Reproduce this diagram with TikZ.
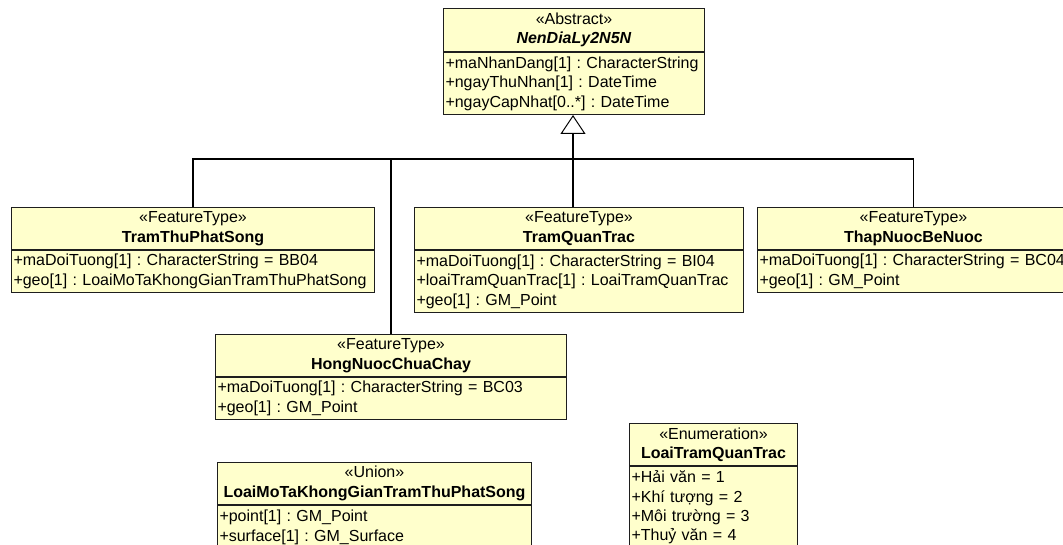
\documentclass[tikz,border=0pt]{standalone}
\usepackage{fontspec}
\setmainfont{Liberation Sans}
\usetikzlibrary{arrows.meta}
\definecolor{classfill}{HTML}{FFFFCC}
\definecolor{classline}{HTML}{1E1E1E}

\begin{document}
\begin{tikzpicture}[x=1pt, y=-1pt,
  font=\fontsize{16}{19.4}\selectfont\frenchspacing,
  hdr/.style={draw=classline, fill=classfill, line width=1pt, anchor=north west,
    inner sep=0pt, align=center},
  body/.style={draw=classline, fill=classfill, line width=1pt, anchor=north west,
    inner xsep=2pt, inner ysep=0pt, align=left},
  conn/.style={draw=black, line width=1.1pt},
  gen/.style={conn, -{Triangle[open, length=19pt, width=25pt, line width=1pt]}},
]
\useasboundingbox (0,0) rectangle (1063,545);
\clip (0,0) rectangle (1063,545);
\fill[white] (0,0) rectangle (1063,545);

% abstract base class
\node[hdr, minimum width=261pt, minimum height=43pt] (base) at (443,8)
  {«Abstract»\\\textbf{\textit{NenDiaLy2N5N}}};
\node[body, text width=257pt, minimum height=62pt] (baseb) at (base.south west)
  {+maNhanDang[1] : CharacterString\\+ngayThuNhan[1] : DateTime\\+ngayCapNhat[0..*] : DateTime};

% feature types
\node[hdr, minimum width=363pt, minimum height=42pt] (tts) at (11,207)
  {«FeatureType»\\\textbf{TramThuPhatSong}};
\node[body, text width=359pt, minimum height=42pt] (ttsb) at (tts.south west)
  {+maDoiTuong[1] : CharacterString = BB04\\+geo[1] : LoaiMoTaKhongGianTramThuPhatSong};

\node[hdr, minimum width=329pt, minimum height=42pt] (tqt) at (414,207)
  {«FeatureType»\\\textbf{TramQuanTrac}};
\node[body, text width=325pt, minimum height=62pt] (tqtb) at (tqt.south west)
  {+maDoiTuong[1] : CharacterString = BI04\\+loaiTramQuanTrac[1] : LoaiTramQuanTrac\\+geo[1] : GM\_Point};

\node[hdr, minimum width=312pt, minimum height=42pt] (tnb) at (757,207)
  {«FeatureType»\\\textbf{ThapNuocBeNuoc}};
\node[body, text width=308pt, minimum height=42pt] (tnbb) at (tnb.south west)
  {+maDoiTuong[1] : CharacterString~=~BC04\\+geo[1] : GM\_Point};

\node[hdr, minimum width=351pt, minimum height=42pt] (hnc) at (215,334)
  {«FeatureType»\\\textbf{HongNuocChuaChay}};
\node[body, text width=347pt, minimum height=42pt] (hncb) at (hnc.south west)
  {+maDoiTuong[1] : CharacterString = BC03\\+geo[1] : GM\_Point};

% data types
\node[hdr, minimum width=314pt, minimum height=42pt] (uni) at (217,462)
  {«Union»\\\textbf{LoaiMoTaKhongGianTramThuPhatSong}};
\node[body, text width=310pt, minimum height=44pt] (unib) at (uni.south west)
  {+point[1] : GM\_Point\\+surface[1] : GM\_Surface};

\node[hdr, minimum width=168pt, minimum height=42pt] (enu) at (629,423)
  {«Enumeration»\\\textbf{LoaiTramQuanTrac}};
\node[body, text width=164pt, minimum height=82pt] (enub) at (enu.south west)
  {+Hải văn = 1\\+Khí tượng = 2\\+Môi trường = 3\\+Thuỷ văn = 4};

% generalization tree
\coordinate (j) at (573,159);
\draw[conn] (tts.north) |- (j) -| (tnb.north);
\draw[conn] (hnc.north) |- (j);
\draw[conn] (tqt.north -| j) -- (j);
\draw[gen] (j) -- (baseb.south -| j);
\end{tikzpicture}
\end{document}
